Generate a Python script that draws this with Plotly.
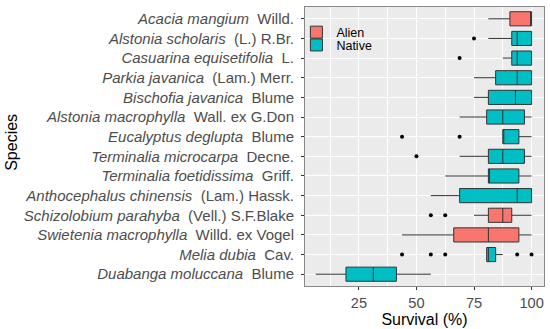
import plotly.graph_objects as go

# Species (top to bottom as shown)
species = ["Acacia mangium", "Alstonia scholaris", "Casuarina equisetifolia", "Parkia javanica",
           "Bischofia javanica", "Alstonia macrophylla", "Eucalyptus deglupta", "Terminalia microcarpa",
           "Terminalia foetidissima", "Anthocephalus chinensis", "Schizolobium parahyba",
           "Swietenia macrophylla", "Melia dubia", "Duabanga moluccana"]
authority = ["Willd.", "(L.) R.Br.", "L.", "(Lam.) Merr.", "Blume", "Wall. ex G.Don", "Blume",
             "Decne.", "Griff.", "(Lam.) Hassk.", "(Vell.) S.F.Blake", "Willd. ex Vogel", "Cav.", "Blume"]
origin = ["Alien", "Native", "Native", "Native", "Native", "Native", "Native", "Native",
          "Native", "Native", "Alien", "Alien", "Native", "Native"]

lowerfence = [81.25, 81.25, 87.5, 75, 75, 68.75, 87.5, 68.75, 62.5, 56.25, 75, 43.75, 80.5, 6.25]
q1 = [90.6, 91.4, 91.4, 84.4, 81.25, 80.5, 87.5, 81.25, 81.25, 68.75, 81.25, 66.2, 80.5, 19.4]
median = [100, 93.75, 93.75, 93.75, 93.0, 87.5, 87.5, 87.5, 81.25, 93.75, 87.5, 81.25, 81.25, 31.25]
q3 = [100, 100, 100, 100, 100, 96.9, 94.5, 96.9, 94.5, 100, 91.4, 94.5, 84.4, 41.3]
upperfence = [100, 100, 100, 100, 100, 100, 100, 100, 100, 100, 100, 100, 87.5, 56.25]

outlier_species = ["Alstonia scholaris", "Casuarina equisetifolia", "Eucalyptus deglupta", "Eucalyptus deglupta",
                   "Terminalia microcarpa", "Schizolobium parahyba", "Schizolobium parahyba",
                   "Melia dubia", "Melia dubia", "Melia dubia", "Melia dubia", "Melia dubia"]
outlier_values = [75, 68.75, 43.75, 68.75, 50, 56.25, 62.5, 43.75, 56.25, 62.5, 93.75, 100]

x_ticks = [25, 50, 75, 100]

colors = {"Alien": "#F8766D", "Native": "#00BFC4"}
legend_ref = {"Alien": "legend", "Native": "legend2"}

fig = go.Figure()
for grp in ["Alien", "Native"]:
    idx = [i for i, o in enumerate(origin) if o == grp]
    fig.add_trace(go.Box(
        name=grp, orientation="h", legend=legend_ref[grp],
        y=[species[i] for i in idx],
        q1=[q1[i] for i in idx], median=[median[i] for i in idx], q3=[q3[i] for i in idx],
        lowerfence=[lowerfence[i] for i in idx], upperfence=[upperfence[i] for i in idx],
        fillcolor=colors[grp], line=dict(color="#333333", width=1),
        whiskerwidth=0, width=0.72, boxpoints=False, hoverinfo="skip",
    ))

fig.add_trace(go.Scatter(x=outlier_values, y=outlier_species, mode="markers",
                         marker=dict(color="black", size=4), showlegend=False, hoverinfo="skip"))

ticktext = [f"<i>{s}</i>\u00a0\u00a0{a}" for s, a in zip(species, authority)]

leg_common = dict(xanchor="left", yanchor="middle", bgcolor="rgba(0,0,0,0)",
                  font=dict(size=12.5, color="black"), itemwidth=30)

fig.update_layout(
    width=550, height=329,
    margin=dict(l=305, r=5, t=7, b=38),
    paper_bgcolor="white", plot_bgcolor="#EBEBEB",
    font=dict(family="Liberation Sans, Arial, sans-serif"),
    boxmode="overlay",
    legend=dict(x=-0.036, y=(291 - 33) / 284, **leg_common),
    legend2=dict(x=-0.036, y=(291 - 46) / 284, **leg_common),
    xaxis=dict(range=[1.6, 105.4], tickvals=x_ticks, ticks="outside", ticklen=3, tickcolor="#333333",
               tickfont=dict(size=14.6, color="#4d4d4d"), showgrid=True, gridcolor="white", gridwidth=1.1,
               minor=dict(dtick=12.5, tick0=0, showgrid=True, gridcolor="white", gridwidth=0.5),
               showline=True, mirror=True, linecolor="#888888", linewidth=1, zeroline=False,
               title=dict(text="Survival (%)", font=dict(size=16, color="black"), standoff=2)),
    yaxis=dict(categoryorder="array", categoryarray=species[::-1], range=[-0.6, 13.6],
               tickvals=species, ticktext=ticktext, ticks="outside", ticklen=3, tickcolor="#333333",
               tickfont=dict(size=15, color="#4d4d4d"), ticklabelstandoff=4,
               showgrid=True, gridcolor="white", gridwidth=1.1,
               showline=True, mirror=True, linecolor="#888888", linewidth=1, zeroline=False),
    annotations=[dict(text="Species", x=(10 - 305) / 240, y=(291 - 145) / 284, xref="paper", yref="paper",
                      textangle=-90, showarrow=False, font=dict(size=16, color="black"),
                      xanchor="center", yanchor="middle")],
)

fig.write_html("out.html", config={"displayModeBar": False},
               post_script="document.body.style.margin='0';")
